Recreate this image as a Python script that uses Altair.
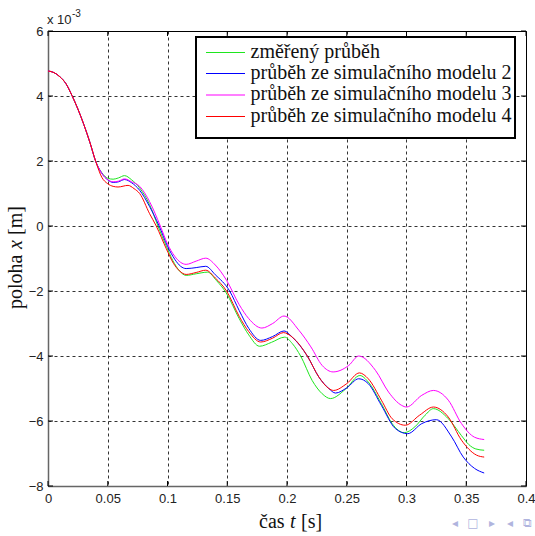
import altair as alt
import pandas as pd

# ---------------- data ----------------
series_names = [
    "změřený průběh",
    "průběh ze simulačního modelu 2",
    "průběh ze simulačního modelu 3",
    "průběh ze simulačního modelu 4",
]
series_colors = ["#1ee61e", "#0000ff", "#ff00ff", "#ff0000"]

t_common = [0, 0.005, 0.01, 0.015, 0.02, 0.025, 0.03, 0.035, 0.04]
v_common = [4.77, 4.72, 4.59, 4.38, 4.02, 3.60, 3.12, 2.58, 1.98]

t_green = [0.045, 0.05, 0.0545, 0.059, 0.064, 0.07, 0.0767, 0.085, 0.092, 0.099, 0.1044, 0.11, 0.1156,
           0.124, 0.1336, 0.141, 0.149, 0.16, 0.168, 0.177, 0.187, 0.198, 0.2045, 0.2114, 0.221, 0.2294,
           0.2364, 0.249, 0.261, 0.268, 0.279, 0.288, 0.298, 0.307, 0.3156, 0.3225, 0.335, 0.346, 0.352,
           0.358, 0.365]
v_green = [1.64, 1.47, 1.44, 1.48, 1.55, 1.42, 1.17, 0.66, 0.0, -0.62, -1.06, -1.38, -1.52,
           -1.47, -1.42, -1.68, -2.05, -2.85, -3.35, -3.70, -3.58, -3.42, -3.62, -4.0, -4.75, -5.16,
           -5.31, -5.02, -4.60, -4.80, -5.47, -6.08, -6.36, -6.18, -5.82, -5.62, -5.93, -6.45, -6.72,
           -6.86, -6.90]

t_blue = [0.045, 0.05, 0.0545, 0.059, 0.064, 0.07, 0.0767, 0.085, 0.093, 0.1, 0.106, 0.111, 0.1156,
          0.124, 0.132, 0.14, 0.152, 0.16, 0.168, 0.178, 0.188, 0.1975, 0.2044, 0.217, 0.2267, 0.235,
          0.2406, 0.25, 0.26, 0.268, 0.279, 0.2906, 0.301, 0.3128, 0.325, 0.3378, 0.3475, 0.357, 0.365]
v_blue = [1.62, 1.42, 1.34, 1.36, 1.43, 1.33, 1.10, 0.60, 0.0, -0.62, -1.02, -1.24, -1.31,
          -1.28, -1.24, -1.50, -2.0, -2.60, -3.15, -3.52, -3.40, -3.23, -3.42, -4.0, -4.65, -5.0,
          -5.14, -4.98, -4.70, -4.85, -5.52, -6.23, -6.39, -6.08, -5.96, -6.49, -7.11, -7.46, -7.60]

t_magenta = [0.045, 0.05, 0.0545, 0.059, 0.064, 0.07, 0.0767, 0.085, 0.094, 0.1, 0.106, 0.111, 0.1156,
             0.124, 0.132, 0.14, 0.1494, 0.16, 0.168, 0.179, 0.188, 0.1975, 0.21, 0.22, 0.2294, 0.2386,
             0.2517, 0.26, 0.274, 0.285, 0.296, 0.3, 0.3128, 0.3225, 0.335, 0.346, 0.357, 0.365]
v_magenta = [1.62, 1.43, 1.36, 1.38, 1.45, 1.36, 1.22, 0.75, 0.0, -0.55, -0.93, -1.12, -1.18,
             -1.08, -0.99, -1.20, -1.67, -2.42, -2.85, -3.14, -3.0, -2.77, -3.21, -3.72, -4.29, -4.49,
             -4.29, -4.0, -4.44, -5.11, -5.52, -5.57, -5.21, -5.06, -5.36, -6.08, -6.50, -6.57]

t_red = [0.045, 0.05, 0.0545, 0.0586, 0.067, 0.072, 0.0767, 0.085, 0.0906, 0.099, 0.105, 0.11, 0.1156,
         0.124, 0.132, 0.14, 0.1494, 0.16, 0.168, 0.178, 0.188, 0.197, 0.2044, 0.217, 0.2267, 0.235,
         0.239, 0.25, 0.2606, 0.268, 0.279, 0.288, 0.299, 0.311, 0.3225, 0.335, 0.346, 0.3586, 0.365]
v_red = [1.50, 1.30, 1.22, 1.20, 1.25, 1.15, 1.0, 0.38, 0.0, -0.70, -1.15, -1.38, -1.49,
         -1.43, -1.36, -1.60, -2.0, -2.78, -3.25, -3.57, -3.45, -3.28, -3.42, -4.0, -4.65, -5.0,
         -5.06, -4.85, -4.52, -4.70, -5.36, -5.93, -6.13, -5.82, -5.57, -5.88, -6.59, -7.05, -7.11]

x_ticks = [0, 0.05, 0.1, 0.15, 0.2, 0.25, 0.3, 0.35, 0.4]
y_ticks = [-8, -6, -4, -2, 0, 2, 4, 6]

# ---------------- layout ----------------
W, H = 478, 455
PAD_L, PAD_T = 48, 31
SERIF = "Liberation Serif"
SANS = "Liberation Sans"

x_scale = alt.Scale(domain=[0, 0.4], nice=False, zero=False)
y_scale = alt.Scale(domain=[-8, 6], nice=False, zero=False)
color_scale = alt.Scale(domain=series_names, range=series_colors)

all_t = [t_green, t_blue, t_magenta, t_red]
all_v = [v_green, v_blue, v_magenta, v_red]

layers = []

# ticks pointing inward
xt = pd.DataFrame({"v": x_ticks})
yt = pd.DataFrame({"v": y_ticks})
tick_style = dict(color="#000", strokeWidth=1)
layers.append(alt.Chart(xt).mark_rule(**tick_style).encode(
    x=alt.X("v:Q", scale=x_scale), y=alt.value(0), y2=alt.value(5)))
layers.append(alt.Chart(xt).mark_rule(**tick_style).encode(
    x=alt.X("v:Q", scale=x_scale), y=alt.value(H), y2=alt.value(H - 5)))
layers.append(alt.Chart(yt).mark_rule(**tick_style).encode(
    y=alt.Y("v:Q", scale=y_scale), x=alt.value(0), x2=alt.value(5)))
layers.append(alt.Chart(yt).mark_rule(**tick_style).encode(
    y=alt.Y("v:Q", scale=y_scale), x=alt.value(W), x2=alt.value(W - 5)))

for name, ts, vs in zip(series_names, all_t, all_v):
    df = pd.DataFrame({"t": t_common + ts, "v": v_common + vs, "s": name})
    xenc = alt.X("t:Q", scale=x_scale,
                 axis=alt.Axis(values=x_ticks, format=".2~f", title=None, grid=True,
                               gridDash=[3, 3], gridColor="#000", gridOpacity=0.8, gridWidth=1,
                               ticks=False, labelFont=SANS, labelFontSize=13, labelColor="#222",
                               labelPadding=6, domainColor="#666", domainWidth=1.5,
                               labelFlush=False, labelOverlap=False))
    yenc = alt.Y("v:Q", scale=y_scale,
                 axis=alt.Axis(values=y_ticks, format="d", title=None, grid=True,
                               gridDash=[3, 3], gridColor="#000", gridOpacity=0.8, gridWidth=1,
                               ticks=False, labelFont=SANS, labelFontSize=13, labelColor="#222",
                               labelPadding=5, domainColor="#666", domainWidth=1.5,
                               labelFlush=False, labelOverlap=False))
    layers.append(alt.Chart(df).mark_line(strokeWidth=1, interpolate="monotone").encode(
        x=xenc, y=yenc,
        color=alt.Color("s:N", scale=color_scale, legend=None)))

# legend box
LX0, LX1, LY0, LY1 = 196 - PAD_L, 515 - PAD_L, 37 - PAD_T, 138 - PAD_T
layers.append(alt.Chart(pd.DataFrame({"a": [0]})).mark_rect(
    fill="white", stroke="black", strokeWidth=2).encode(
    x=alt.value(LX0), x2=alt.value(LX1), y=alt.value(LY0), y2=alt.value(LY1)))
row_y = [52.5, 73.5, 95, 116.5]
for i, name in enumerate(series_names):
    ry = row_y[i] - PAD_T
    d = pd.DataFrame({"s": [name]})
    layers.append(alt.Chart(d).mark_rule(strokeWidth=1.2).encode(
        x=alt.value(206 - PAD_L), x2=alt.value(245 - PAD_L), y=alt.value(ry),
        color=alt.Color("s:N", scale=color_scale, legend=None)))
    layers.append(alt.Chart(d).mark_text(
        align="left", baseline="alphabetic", font=SERIF, fontSize=20, color="#111").encode(
        x=alt.value(250.5 - PAD_L), y=alt.value(ry + 5), text="s:N"))

def txt(s, x, y, **kw):
    return alt.Chart(pd.DataFrame({"s": [s]})).mark_text(**kw).encode(
        x=alt.value(x), y=alt.value(y), text="s:N")

# exponent label
layers.append(txt("x 10", 47 - PAD_L, 24 - PAD_T, align="left", baseline="alphabetic",
                  font=SANS, fontSize=13, color="#222"))
layers.append(txt("-3", 72 - PAD_L, 17 - PAD_T, align="left", baseline="alphabetic",
                  font=SANS, fontSize=10, color="#222"))

# x title: "čas t [s]"
xb = 528 - PAD_T
xs = 259 - PAD_L
layers.append(txt("čas", xs, xb, align="left", baseline="alphabetic", font=SERIF, fontSize=20, color="#111"))
layers.append(txt("t", xs + 31, xb, align="left", baseline="alphabetic", font=SERIF, fontSize=20,
                  fontStyle="italic", color="#111"))
layers.append(txt("[s]", xs + 42, xb, align="left", baseline="alphabetic", font=SERIF, fontSize=20, color="#111"))

# y title: "poloha x [m]"
yb = 22 - PAD_L
ys = 309 - PAD_T
layers.append(txt("poloha", yb, ys, align="left", baseline="alphabetic", angle=270, font=SERIF,
                  fontSize=20, color="#111"))
layers.append(txt("x", yb, ys - 60, align="left", baseline="alphabetic", angle=270, font=SERIF,
                  fontSize=20, fontStyle="italic", color="#111"))
layers.append(txt("[m]", yb, ys - 74, align="left", baseline="alphabetic", angle=270, font=SERIF,
                  fontSize=20, color="#111"))

# beamer navigation symbols
nav = ["◂", "□", "▸", "◂", "⧉"]
nav_x = [455, 473, 492, 510, 527]
for s, nx in zip(nav, nav_x):
    layers.append(txt(s, nx - PAD_L, 523 - PAD_T, align="center", baseline="middle",
                      font="DejaVu Sans", fontSize=12, color="#b0b4de"))

chart = alt.layer(*layers).properties(
    width=W, height=H,
    padding={"left": PAD_L, "top": PAD_T, "right": 535 - PAD_L - W, "bottom": 536 - PAD_T - H},
    autosize=alt.AutoSizeParams(type="none"),
    background="white",
).configure_view(stroke="#000", strokeWidth=1)

chart.save("out.html", embed_options={"renderer": "svg", "actions": False})
